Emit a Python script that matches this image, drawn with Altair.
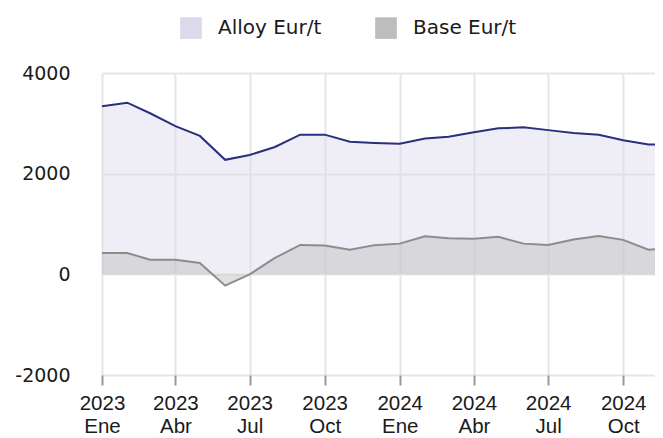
import altair as alt
import pandas as pd

months = ["2023-01-01", "2023-02-01", "2023-03-01", "2023-04-01", "2023-05-01", "2023-06-01",
          "2023-07-01", "2023-08-01", "2023-09-01", "2023-10-01", "2023-11-01", "2023-12-01",
          "2024-01-01", "2024-02-01", "2024-03-01", "2024-04-01", "2024-05-01", "2024-06-01",
          "2024-07-01", "2024-08-01", "2024-09-01", "2024-10-01", "2024-11-01", "2024-11-09"]
alloy = [3340, 3410, 3200, 2945, 2750, 2275, 2370, 2530, 2775, 2775, 2635, 2610,
         2595, 2700, 2735, 2825, 2900, 2920, 2865, 2810, 2775, 2665, 2580, 2580]
base = [425, 425, 290, 290, 225, -225, 0, 325, 585, 575, 490, 580,
        610, 755, 715, 705, 745, 610, 585, 690, 760, 685, 490, 500]
series_names = ["Alloy Eur/t", "Base Eur/t"]
month_labels = ["Ene", "Feb", "Mar", "Abr", "May", "Jun", "Jul", "Ago", "Sep", "Oct", "Nov", "Dic"]
y_ticks = [-2000, 0, 2000, 4000]

fill_colors = ["#dcdaea", "#bdbdbd"]
line_colors = ["#2b2f7e", "#8c8c8c"]

rows = []
for name, vals in zip(series_names, [alloy, base]):
    for d, v in zip(months, vals):
        rows.append({"date": d, "series": name, "value": v})
df = pd.DataFrame(rows)

month_arr = "[" + ",".join("'%s'" % m for m in month_labels) + "]"
x_label_expr = "[utcFormat(datum.value, '%Y'), " + month_arr + "[utcmonth(datum.value)]]"

x_enc = alt.X(
    "date:T",
    scale=alt.Scale(type="utc", nice=False),
    axis=alt.Axis(
        title=None,
        tickCount={"interval": "month", "step": 3},
        labelExpr=x_label_expr,
        labelFont="Liberation Sans",
        labelFontSize=20.5,
        labelLineHeight=23,
        labelColor="#1a1a1a",
        labelAngle=0,
        labelAlign="center",
        labelOverlap=False,
        labelPadding=8,
        tickSize=10,
        tickColor="#999999",
        tickWidth=2,
        domain=False,
        grid=True,
        gridColor="#e6e6e8",
        gridWidth=2,
    ),
)
y_enc = alt.Y(
    "value:Q",
    stack=None,
    scale=alt.Scale(domain=[-2000, 4000], nice=False),
    axis=alt.Axis(
        title=None,
        values=y_ticks,
        labelExpr="'' + datum.value",
        labelFont="DejaVu Sans",
        labelFontSize=19,
        labelColor="#1a1a1a",
        labelPadding=32,
        ticks=False,
        domain=False,
        grid=True,
        gridColor="#e6e6e8",
        gridWidth=2,
    ),
)

basechart = alt.Chart(df)

area = basechart.mark_area(opacity=0.45).encode(
    x=x_enc,
    y=y_enc,
    color=alt.Color(
        "series:N",
        scale=alt.Scale(domain=series_names, range=fill_colors),
        legend=alt.Legend(
            title=None,
            orient="none",
            legendX=78,
            legendY=-56,
            direction="horizontal",
            symbolType="square",
            symbolSize=470,
            symbolStrokeWidth=0,
            symbolOpacity=1,
            labelFont="DejaVu Sans",
            labelFontSize=20,
            labelColor="#1a1a1a",
            labelOffset=16,
            columnPadding=53,
            padding=0,
        ),
    ),
)

line = basechart.mark_line(strokeWidth=2).encode(
    x=x_enc,
    y=y_enc,
    stroke=alt.Stroke(
        "series:N",
        scale=alt.Scale(domain=series_names, range=line_colors),
        legend=None,
    ),
)

chart = alt.layer(area, line).properties(
    width=553,
    height=302,
    autosize=alt.AutoSizeParams(type="none"),
    padding={"left": 94, "top": 65, "right": 0, "bottom": 62},
).configure_view(stroke=None)

chart.save("out.html", embed_options={"renderer": "svg", "actions": False})
